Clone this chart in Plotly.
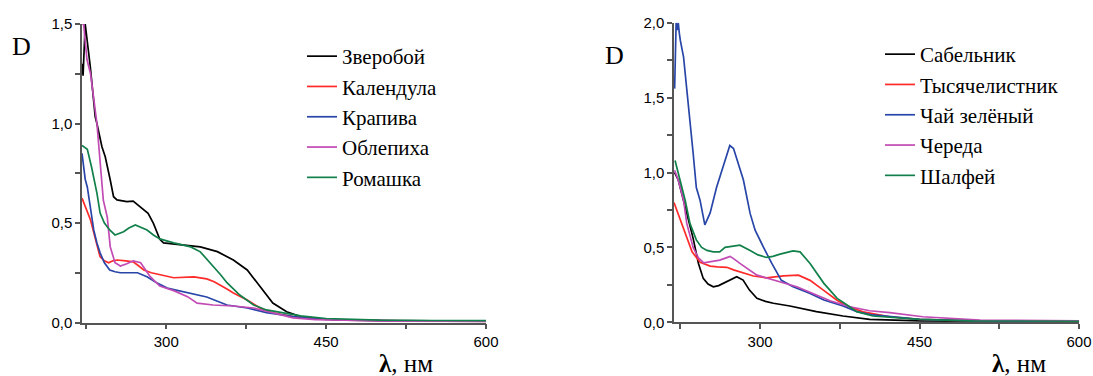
import plotly.graph_objects as go

# ---------------- Left panel data ----------------
wl_zverob = [221, 222, 224, 228.8, 233.4, 235, 239.7, 242.8, 247.5, 250.6, 253.8, 263, 269, 275.6, 283, 288, 294, 297.5, 316, 332, 348, 363, 376, 388, 400, 413, 426, 440, 460, 500, 550, 600]
D_zverob = [1.30, 1.24, 1.50, 1.285, 1.034, 1.0, 0.883, 0.833, 0.716, 0.632, 0.616, 0.607, 0.61, 0.58, 0.549, 0.498, 0.418, 0.40, 0.39, 0.38, 0.356, 0.314, 0.264, 0.18, 0.098, 0.054, 0.03, 0.02, 0.014, 0.01, 0.008, 0.007]

wl_kalend = [221, 225, 229, 235, 238, 242, 246, 250, 254, 262, 269, 274, 279, 286, 294, 307, 326, 338, 345, 351, 357, 363, 376, 388, 400, 419, 440, 470, 520, 600]
D_kalend = [0.625, 0.57, 0.515, 0.39, 0.33, 0.31, 0.30, 0.31, 0.314, 0.31, 0.305, 0.285, 0.264, 0.25, 0.239, 0.225, 0.229, 0.219, 0.205, 0.188, 0.168, 0.148, 0.113, 0.073, 0.048, 0.03, 0.018, 0.012, 0.008, 0.006]

wl_krapiva = [221, 224, 226, 229, 232, 235, 238, 242, 247, 252, 257, 265, 273, 282, 291, 301, 320, 338, 357, 376, 394, 419, 440, 470, 520, 600]
D_krapiva = [0.85, 0.72, 0.68, 0.57, 0.465, 0.40, 0.35, 0.30, 0.264, 0.255, 0.25, 0.25, 0.25, 0.23, 0.20, 0.173, 0.148, 0.128, 0.088, 0.073, 0.05, 0.03, 0.018, 0.012, 0.008, 0.006]

wl_oblep = [221, 222.5, 225.7, 229, 235, 241, 244.7, 247.5, 252, 257, 263, 269, 276, 285, 294, 307, 320, 329, 344, 363, 382, 400, 419, 440, 470, 520, 600]
D_oblep = [1.5, 1.5, 1.32, 1.25, 1.0, 0.615, 0.53, 0.38, 0.30, 0.284, 0.295, 0.31, 0.30, 0.23, 0.183, 0.16, 0.13, 0.097, 0.088, 0.083, 0.073, 0.048, 0.023, 0.014, 0.01, 0.007, 0.005]

wl_romash = [221, 226, 230, 235, 238, 242, 247, 252, 260, 265, 271, 276, 282, 288, 294, 307, 323, 332, 338, 344, 351, 357, 363, 369, 382, 394, 410, 426, 450, 500, 550, 600]
D_romash = [0.89, 0.87, 0.78, 0.65, 0.55, 0.50, 0.465, 0.44, 0.456, 0.475, 0.49, 0.48, 0.465, 0.44, 0.42, 0.40, 0.38, 0.355, 0.32, 0.28, 0.24, 0.20, 0.168, 0.138, 0.088, 0.063, 0.048, 0.033, 0.02, 0.012, 0.01, 0.009]

# ---------------- Right panel data ----------------
wl_sabel = [219.5, 223, 227, 231, 237, 242, 246.5, 251, 256, 261, 265.5, 272, 278, 284, 290, 297, 305, 312.5, 328, 353, 378, 403, 422, 450, 500, 600]
D_sabel = [1.0, 0.95, 0.84, 0.727, 0.56, 0.393, 0.293, 0.255, 0.237, 0.245, 0.26, 0.285, 0.304, 0.282, 0.215, 0.16, 0.14, 0.127, 0.109, 0.071, 0.042, 0.02, 0.015, 0.01, 0.007, 0.005]

wl_tysyach = [219, 225, 231, 236, 243.6, 253, 260, 268.7, 275, 281, 293.7, 306, 322, 336, 347, 359.5, 372, 381.8, 397, 422, 450, 500, 600]
D_tysyach = [0.80, 0.68, 0.57, 0.47, 0.40, 0.375, 0.37, 0.367, 0.35, 0.337, 0.309, 0.297, 0.31, 0.315, 0.28, 0.215, 0.149, 0.109, 0.07, 0.037, 0.02, 0.01, 0.006]

wl_chai = [219.6, 221, 222, 223, 224, 225, 228, 231, 234, 237, 240, 243.5, 248, 253, 259, 265.5, 271.5, 275, 279.6, 284.3, 290.6, 295.3, 303, 311, 320, 331, 347, 360, 378, 391, 406, 422, 450, 500, 600]
D_chai = [1.56, 2.0, 1.95, 2.0, 1.93, 1.88, 1.77, 1.57, 1.35, 1.13, 0.90, 0.815, 0.65, 0.73, 0.90, 1.04, 1.18, 1.16, 1.06, 0.95, 0.727, 0.615, 0.504, 0.393, 0.28, 0.237, 0.193, 0.149, 0.109, 0.071, 0.049, 0.037, 0.02, 0.01, 0.006]

wl_chereda = [219.6, 223, 228, 231, 237, 242, 247, 255, 262, 268, 271.8, 276, 281, 297, 315.7, 334.5, 353, 365.8, 384.6, 403, 422, 453, 507, 600]
D_chereda = [1.015, 0.95, 0.815, 0.66, 0.50, 0.43, 0.397, 0.405, 0.415, 0.43, 0.44, 0.42, 0.393, 0.315, 0.277, 0.237, 0.182, 0.144, 0.104, 0.077, 0.064, 0.037, 0.015, 0.01]

wl_shalf = [220, 225, 229.5, 234, 240, 245, 250, 256, 262, 267, 272, 281, 290.6, 298, 306, 312, 318.8, 331, 337.6, 347, 360, 372.5, 381.8, 391, 406, 422, 450, 500, 600]
D_shalf = [1.08, 0.95, 0.815, 0.66, 0.55, 0.50, 0.48, 0.47, 0.47, 0.50, 0.504, 0.515, 0.48, 0.45, 0.433, 0.44, 0.455, 0.477, 0.47, 0.393, 0.26, 0.16, 0.115, 0.071, 0.042, 0.033, 0.02, 0.01, 0.007]

# tick definitions
x_tickvals = [225, 300, 375, 450, 525, 600]
x_ticktext = ["", "300", "", "450", "", "600"]
yL_tickvals = [0, 0.25, 0.5, 0.75, 1.0, 1.25, 1.5]
yL_ticktext = ["0,0", "", "0,5", "", "1,0", "", "1,5"]
yR_tickvals = [0, 0.25, 0.5, 0.75, 1.0, 1.25, 1.5, 1.75, 2.0]
yR_ticktext = ["0,0", "", "0,5", "", "1,0", "", "1,5", "", "2,0"]

C_BLACK = "#000000"
C_RED = "#ff2a2a"
C_BLUE = "#2846a8"
C_MAG = "#c24ab4"
C_GREEN = "#12804a"

W, H = 1093, 376
fig = go.Figure()

left = [
    ("Зверобой", wl_zverob, D_zverob, C_BLACK),
    ("Календула", wl_kalend, D_kalend, C_RED),
    ("Крапива", wl_krapiva, D_krapiva, C_BLUE),
    ("Облепиха", wl_oblep, D_oblep, C_MAG),
    ("Ромашка", wl_romash, D_romash, C_GREEN),
]
right = [
    ("Сабельник", wl_sabel, D_sabel, C_BLACK),
    ("Тысячелистник", wl_tysyach, D_tysyach, C_RED),
    ("Чай зелёный", wl_chai, D_chai, C_BLUE),
    ("Череда", wl_chereda, D_chereda, C_MAG),
    ("Шалфей", wl_shalf, D_shalf, C_GREEN),
]
for name, x, y, c in left:
    fig.add_trace(go.Scatter(x=x, y=y, name=name, mode="lines",
                             line=dict(color=c, width=1.7),
                             xaxis="x", yaxis="y", legend="legend"))
for name, x, y, c in right:
    fig.add_trace(go.Scatter(x=x, y=y, name=name, mode="lines",
                             line=dict(color=c, width=1.7),
                             xaxis="x2", yaxis="y2", legend="legend2"))

AX = "#555555"
tickfont = dict(family="Liberation Sans, Arial, sans-serif", size=15, color="black")
common_x = dict(tickmode="array", tickvals=x_tickvals, ticktext=x_ticktext,
                showline=True, linecolor=AX, linewidth=1.5, ticks="outside",
                ticklen=5, tickwidth=1.5, tickcolor=AX, showgrid=False,
                zeroline=False, tickfont=tickfont, automargin=False)
common_y = dict(tickmode="array", showline=True, linecolor=AX, linewidth=1.5,
                ticks="outside", ticklen=5, tickwidth=1.5, tickcolor=AX,
                showgrid=False, zeroline=False, tickfont=tickfont, automargin=False)

serif = "Liberation Serif, Times New Roman, DejaVu Serif, serif"
legfont = dict(family=serif, size=21, color="black")

fig.update_layout(
    template="none",
    width=W, height=H, autosize=False,
    margin=dict(l=0, r=0, t=0, b=0, pad=0),
    paper_bgcolor="white", plot_bgcolor="white",
    xaxis=dict(domain=[82 / W, 486 / W], range=[221, 600], anchor="y", **common_x),
    yaxis=dict(domain=[1 - 322.5 / H, 1 - 24 / H], range=[0, 1.5], anchor="x",
               tickvals=yL_tickvals, ticktext=yL_ticktext, **common_y),
    xaxis2=dict(domain=[674 / W, 1079 / W], range=[219, 600], anchor="y2", **common_x),
    yaxis2=dict(domain=[1 - 322.3 / H, 1 - 22.7 / H], range=[0, 2.0], anchor="x2",
                tickvals=yR_tickvals, ticktext=yR_ticktext, **common_y),
    legend=dict(x=302 / W, y=1 - 36 / H, xanchor="left", yanchor="top",
                font=legfont, bgcolor="rgba(0,0,0,0)", tracegroupgap=0),
    legend2=dict(x=880 / W, y=1 - 34 / H, xanchor="left", yanchor="top",
                 font=legfont, bgcolor="rgba(0,0,0,0)", tracegroupgap=0),
    showlegend=True,
)

fig.add_annotation(x=21.5 / W, y=1 - 46 / H, xref="paper", yref="paper",
                   text="D", showarrow=False, xanchor="center", yanchor="middle",
                   font=dict(family=serif, size=26, color="black"))
fig.add_annotation(x=614 / W, y=1 - 55 / H, xref="paper", yref="paper",
                   text="D", showarrow=False, xanchor="center", yanchor="middle",
                   font=dict(family=serif, size=26, color="black"))
fig.add_annotation(x=406 / W, y=1 - 363 / H, xref="paper", yref="paper",
                   text="<b>λ</b>, нм", showarrow=False, xanchor="center", yanchor="middle",
                   font=dict(family=serif, size=25, color="black"))
fig.add_annotation(x=1019 / W, y=1 - 363 / H, xref="paper", yref="paper",
                   text="<b>λ</b>, нм", showarrow=False, xanchor="center", yanchor="middle",
                   font=dict(family=serif, size=25, color="black"))

fig.write_html(
    "out.html",
    config={"responsive": False, "displayModeBar": False},
    post_script="document.body.style.margin='0px';document.body.style.padding='0px';document.body.style.overflow='hidden';",
)
